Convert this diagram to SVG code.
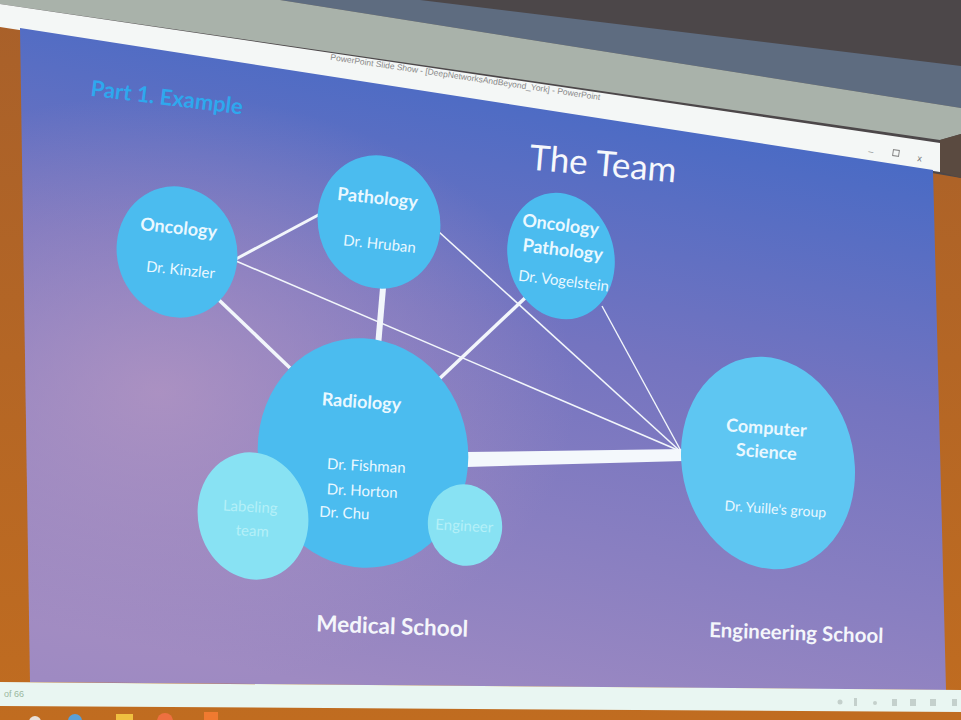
<svg xmlns="http://www.w3.org/2000/svg" width="961" height="720" viewBox="0 0 961 720">
<defs>
<linearGradient id="slideBg" x1="0.65" y1="0" x2="0.35" y2="1">
<stop offset="0" stop-color="#3d68c6"/>
<stop offset="0.45" stop-color="#7474c0"/>
<stop offset="1" stop-color="#9e8ac2"/>
</linearGradient>
<radialGradient id="pinkGlow" cx="0.15" cy="0.55" r="0.45">
<stop offset="0" stop-color="#b898c2" stop-opacity="0.75"/>
<stop offset="1" stop-color="#b898c2" stop-opacity="0"/>
</radialGradient>
<linearGradient id="wall" x1="0" y1="0" x2="0" y2="1">
<stop offset="0" stop-color="#a8602a"/>
<stop offset="1" stop-color="#c06c20"/>
</linearGradient>
<style>
.node{fill:#4bbcef;}
.light{fill:#88e2f3;}
.t{font-family:Lato,"Open Sans","Liberation Sans",sans-serif;fill:#eaf8ff;text-anchor:middle;}
.h{font-weight:bold;font-size:18px;}
.n{font-size:15px;}
.faint{fill:#b4f0f8;font-size:15px;}
.conn line{stroke:#f2f6fb;stroke-linecap:butt;}
</style>
</defs>

<!-- room background -->
<rect x="0" y="0" width="961" height="720" fill="url(#wall)"/>
<polygon points="0,0 961,0 961,178 0,12" fill="#4c4749"/>
<polygon points="420,0 961,66 961,108 280,0" fill="#5e6c80"/>
<polygon points="0,0 280,0 961,108 961,134 940,140 0,4" fill="#a9b2aa"/>
<polygon points="940,140 961,134 961,178 940,172" fill="#5a4a40"/>

<!-- window title bar -->
<polygon points="0,4 940,143 940,172 0,27" fill="#f4f7f6"/>
<text transform="translate(465,80) rotate(8.5)" font-family="'Liberation Sans',Arial,sans-serif" font-size="8.5" fill="#8a8a8a" text-anchor="middle">PowerPoint Slide Show  -  [DeepNetworksAndBeyond_York]  -  PowerPoint</text>
<text transform="translate(868,154) rotate(8.5)" font-family="'Liberation Sans',Arial,sans-serif" font-size="9" fill="#777">–</text>
<rect x="893" y="150" width="6" height="6" fill="none" stroke="#888" stroke-width="1" transform="rotate(8.5 896 153)"/>
<text transform="translate(917,161) rotate(8.5)" font-family="'Liberation Sans',Arial,sans-serif" font-size="9" fill="#777">x</text>

<!-- slide -->
<polygon points="20,28 933,170 946,690 30,682" fill="url(#slideBg)"/>
<polygon points="20,28 933,170 946,690 30,682" fill="url(#pinkGlow)"/>

<!-- bottom bar and taskbar -->
<polygon points="0,682 961,690 961,712 0,706" fill="#e9f6f2"/>
<text x="4" y="697" font-family="'Liberation Sans',Arial,sans-serif" font-size="9" fill="#9ab8a0">of 66</text>
<g fill="#c4d0cc">
<circle cx="840" cy="702" r="2.5"/><rect x="854" y="698" width="3" height="8"/><circle cx="875" cy="703" r="2"/><rect x="892" y="699" width="5" height="7"/><rect x="910" y="699" width="6" height="7"/><rect x="930" y="699" width="6" height="7"/><rect x="952" y="699" width="5" height="7"/>
</g>
<circle cx="35" cy="722" r="6" fill="#e8e0da"/>
<circle cx="75" cy="721" r="7" fill="#5aa0d8"/>
<rect x="116" y="714" width="17" height="8" fill="#f0c040"/>
<circle cx="165" cy="721" r="8" fill="#ee7040"/>
<rect x="204" y="712" width="14" height="10" fill="#f07a30"/>

<!-- slide title texts -->
<text transform="translate(166,105) rotate(7)" font-family="Lato,'Open Sans',sans-serif" font-weight="bold" font-size="22" fill="#2ea8ee" text-anchor="middle">Part 1. Example</text>
<text transform="translate(602,176) rotate(5)" font-family="Lato,'Open Sans',sans-serif" font-size="35" fill="#f6f8fc" text-anchor="middle">The Team</text>

<!-- connectors -->
<g id="connectors" class="conn">
<line x1="236" y1="259" x2="322" y2="213" stroke-width="3"/>
<line x1="236" y1="261" x2="680" y2="451" stroke-width="1.6"/>
<line x1="219" y1="300" x2="290" y2="368" stroke-width="3.5"/>
<line x1="383" y1="288" x2="378" y2="346" stroke-width="6"/>
<line x1="439" y1="232" x2="680" y2="451" stroke-width="1.6"/>
<line x1="525" y1="298" x2="436" y2="382" stroke-width="3.5"/>
<line x1="602" y1="306" x2="681" y2="451" stroke-width="1.4"/>
<polygon points="466,452 684,449 684,461 466,467" fill="#f4f8fc"/>
</g>

<!-- nodes -->
<g id="oncology">
<ellipse class="node" cx="177" cy="252" rx="60" ry="66" transform="rotate(-15 177 252)"/>
<text class="t h" transform="translate(178,234) rotate(6)">Oncology</text>
<text class="t n" transform="translate(180,275) rotate(6)">Dr. Kinzler</text>
</g>
<g id="pathology">
<ellipse class="node" cx="379" cy="222" rx="61" ry="67" transform="rotate(-15 379 222)"/>
<text class="t h" transform="translate(377,204) rotate(6)">Pathology</text>
<text class="t n" transform="translate(379,249) rotate(6)">Dr. Hruban</text>
</g>
<g id="onc-pathology">
<ellipse class="node" cx="561" cy="256" rx="53" ry="64" transform="rotate(-15 561 256)"/>
<text class="t h" transform="translate(560,231) rotate(7)">Oncology</text>
<text class="t h" transform="translate(562,256) rotate(7)">Pathology</text>
<text class="t n" transform="translate(563,286) rotate(7)">Dr. Vogelstein</text>
</g>
<g id="radiology">
<ellipse class="node" cx="363" cy="453" rx="105" ry="115" transform="rotate(-10 363 453)" fill="#56c3f0"/>
<text class="t h" transform="translate(361,408) rotate(4)">Radiology</text>
<text class="t n" transform="translate(366,471) rotate(3)">Dr. Fishman</text>
<text class="t n" transform="translate(362,496) rotate(3)">Dr. Horton</text>
<text class="t n" transform="translate(344,518) rotate(3)">Dr. Chu</text>
</g>
<g id="labeling-team">
<ellipse class="light" cx="253" cy="516" rx="55" ry="64" transform="rotate(-12 253 516)"/>
<text class="t faint" transform="translate(250,512) rotate(3)">Labeling</text>
<text class="t faint" transform="translate(252,536) rotate(3)">team</text>
</g>
<g id="engineer">
<ellipse class="light" cx="465" cy="525" rx="37" ry="41" transform="rotate(-12 465 525)"/>
<text class="t faint" font-size="14" transform="translate(464,531) rotate(3)">Engineer</text>
</g>
<g id="computer-science">
<ellipse cx="768" cy="463" rx="86" ry="107" transform="rotate(-12 768 463)" fill="#5ec6f2"/>
<text class="t h" font-size="16" transform="translate(766,434) rotate(4)">Computer</text>
<text class="t h" font-size="16" transform="translate(766,458) rotate(4)">Science</text>
<text class="t" font-size="14" transform="translate(775,514) rotate(4)">Dr. Yuille's group</text>
</g>

<!-- group labels -->
<text transform="translate(392,634) rotate(2)" font-family="Lato,'Open Sans',sans-serif" font-weight="bold" font-size="22.5" fill="#f4f6fb" text-anchor="middle">Medical School</text>
<text transform="translate(796,640) rotate(2)" font-family="Lato,'Open Sans',sans-serif" font-weight="bold" font-size="20.5" fill="#f4f6fb" text-anchor="middle">Engineering School</text>
</svg>
